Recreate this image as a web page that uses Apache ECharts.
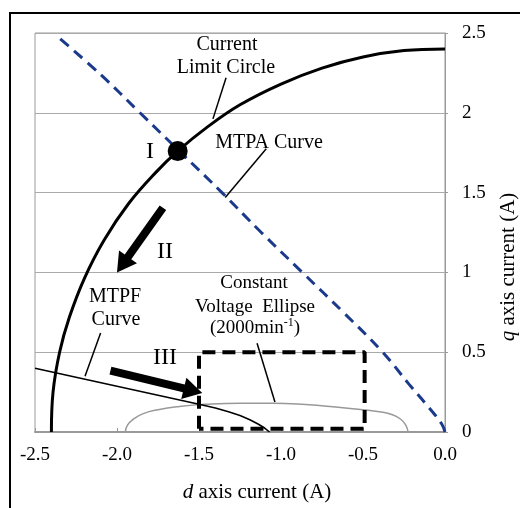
<!DOCTYPE html>
<html>
<head>
<meta charset="utf-8">
<script src="https://cdn.jsdelivr.net/npm/echarts@6/dist/echarts.min.js"></script>
<style>
html, body { margin: 0; padding: 0; background: #fff; }
#chart { width: 520px; height: 508px; }
</style>
</head>
<body>
<div id="chart"></div>
<script>
// tick labels
const xTickLabels = ['-2.5', '-2.0', '-1.5', '-1.0', '-0.5', '0.0'];
const yTickLabels = ['0', '0.5', '1', '1.5', '2', '2.5'];

// current limit circle (d, q)
const circleD = [-2.40, -2.39, -2.35, -2.29, -2.20, -2.08, -1.93, -1.76, -1.63, -1.45, -1.25, -1.00, -0.75, -0.50, -0.25, 0.00];
const circleQ = [0.00, 0.25, 0.50, 0.72, 0.96, 1.20, 1.43, 1.63, 1.76, 1.91, 2.05, 2.18, 2.28, 2.35, 2.39, 2.40];

// MTPA curve
const mtpaD = [0.00, -0.02, -0.10, -0.22, -0.38, -0.62, -0.87, -1.12, -1.36, -1.62, -1.86, -2.10, -2.36];
const mtpaQ = [0.00, 0.05, 0.155, 0.30, 0.50, 0.75, 1.00, 1.25, 1.50, 1.76, 2.00, 2.24, 2.475];

// MTPF curve
const mtpfD = [-2.50, -1.50, -1.40, -1.32, -1.25, -1.19, -1.14, -1.10, -1.07];
const mtpfQ = [0.40, 0.174, 0.150, 0.127, 0.103, 0.077, 0.050, 0.025, 0.00];

// constant voltage ellipse (2000 min-1), upper half
const ellipseD = [-1.95, -1.935, -1.90, -1.84, -1.75, -1.62, -1.45, -1.25, -1.05, -0.85, -0.65, -0.50, -0.40, -0.32, -0.27, -0.24, -0.225];
const ellipseQ = [0.00, 0.045, 0.08, 0.115, 0.14, 0.16, 0.174, 0.18, 0.18, 0.172, 0.155, 0.14, 0.127, 0.108, 0.08, 0.045, 0.00];

// field weakening region box
const boxD = [-1.50, -1.50, -0.49, -0.49, -1.50];
const boxQ = [0.02, 0.50, 0.50, 0.02, 0.02];

// operating point I
const pointD = [-1.63];
const pointQ = [1.76];

// arrows II and III: start -> tip
const arrowD1 = [-1.72, -2.04];
const arrowQ1 = [1.405, 0.385];
const arrowD2 = [-2.00, -1.48];
const arrowQ2 = [1.00, 0.245];

// leader lines of the labels
const leaderD1 = [-1.335, -1.09, -2.10, -1.146];
const leaderQ1 = [2.22, 1.775, 0.62, 0.556];
const leaderD2 = [-1.415, -1.34, -2.195, -1.037];
const leaderQ2 = [1.962, 1.469, 0.35, 0.188];

const serif = '"Liberation Serif", "Times New Roman", serif';
const zip = (a, b) => a.map((v, i) => [v, b[i]]);

function renderArrow(params, api) {
  const p1 = api.coord([api.value(0), api.value(1)]);
  const p2 = api.coord([api.value(2), api.value(3)]);
  const dx = p2[0] - p1[0], dy = p2[1] - p1[1];
  const len = Math.sqrt(dx * dx + dy * dy);
  const ux = dx / len, uy = dy / len, nx = -uy, ny = ux;
  const hw = 4, HW = 11, HL = 19;
  const bx = p2[0] - ux * HL, by = p2[1] - uy * HL;
  return {
    type: 'polygon',
    shape: { points: [
      [p1[0] + nx * hw, p1[1] + ny * hw],
      [bx + nx * hw, by + ny * hw],
      [bx + nx * HW, by + ny * HW],
      p2,
      [bx - nx * HW, by - ny * HW],
      [bx - nx * hw, by - ny * hw],
      [p1[0] - nx * hw, p1[1] - ny * hw]
    ] },
    style: { fill: '#000' }
  };
}

function renderLeader(params, api) {
  const p1 = api.coord([api.value(0), api.value(1)]);
  const p2 = api.coord([api.value(2), api.value(3)]);
  return {
    type: 'line',
    shape: { x1: p1[0], y1: p1[1], x2: p2[0], y2: p2[1] },
    style: { stroke: '#000', lineWidth: 1.5 }
  };
}

function txt(text, x, y, size) {
  return {
    type: 'text', x: x, y: y, z: 100,
    style: { text: text, fontFamily: serif, fontSize: size, fill: '#000', align: 'center', verticalAlign: 'middle' }
  };
}

const chart = echarts.init(document.getElementById('chart'));

chart.setOption({
  backgroundColor: '#fff',
  animation: false,
  textStyle: { fontFamily: serif },
  grid: { left: 35, right: 75, top: 33, bottom: 76, show: true, borderColor: '#999', borderWidth: 1 },
  xAxis: {
    type: 'value', min: -2.5, max: 0, interval: 0.5,
    axisLine: { lineStyle: { color: '#999', width: 2 } },
    axisTick: { show: true, inside: true, length: 4, lineStyle: { color: '#999' } },
    axisLabel: {
      color: '#000', fontSize: 19, fontFamily: serif, margin: 14,
      formatter: v => xTickLabels[Math.round((v + 2.5) / 0.5)]
    },
    splitLine: { show: false }
  },
  yAxis: {
    type: 'value', position: 'right', min: 0, max: 2.5, interval: 0.5,
    axisLine: { show: true, lineStyle: { color: '#999' } },
    axisTick: { show: true, length: 3, lineStyle: { color: '#999' } },
    axisLabel: {
      color: '#000', fontSize: 19, fontFamily: serif, margin: 17,
      formatter: v => yTickLabels[Math.round(v / 0.5)]
    },
    splitLine: { show: true, lineStyle: { color: '#aaa', width: 1 } }
  },
  series: [
    {
      name: 'Constant Voltage Ellipse', type: 'line', data: zip(ellipseD, ellipseQ),
      smooth: 0.5, showSymbol: false, lineStyle: { color: '#999', width: 1.5 }, z: 2
    },
    {
      name: 'MTPF Curve', type: 'line', data: zip(mtpfD, mtpfQ),
      smooth: false, showSymbol: false, lineStyle: { color: '#000', width: 1.6, join: 'round' }, z: 3
    },
    {
      name: 'Region', type: 'line', data: zip(boxD, boxQ),
      showSymbol: false, lineStyle: { color: '#000', width: 4, type: [13, 7] }, z: 4
    },
    {
      name: 'Current Limit Circle', type: 'line', data: zip(circleD, circleQ),
      smooth: 0.4, showSymbol: false, lineStyle: { color: '#000', width: 3 }, z: 5
    },
    {
      name: 'MTPA Curve', type: 'line', data: zip(mtpaD, mtpaQ),
      smooth: 0.4, showSymbol: false, lineStyle: { color: '#1b3a8c', width: 3, type: [11, 7] }, z: 6
    },
    {
      name: 'I', type: 'scatter', data: zip(pointD, pointQ),
      symbolSize: 20, itemStyle: { color: '#000', opacity: 1 }, z: 7
    },
    {
      name: 'arrows', type: 'custom', renderItem: renderArrow,
      data: arrowD1.map((d, i) => [d, arrowQ1[i], arrowD2[i], arrowQ2[i]]), z: 8
    },
    {
      name: 'leaders', type: 'custom', renderItem: renderLeader,
      data: leaderD1.map((d, i) => [d, leaderQ1[i], leaderD2[i], leaderQ2[i]]), z: 8
    }
  ],
  graphic: [
    { type: 'rect', shape: { x: 10, y: 13, width: 560, height: 560 }, style: { fill: 'none', stroke: '#000', lineWidth: 2 }, z: 100 },
    txt('Current', 227, 45, 20),
    txt('Limit Circle', 226, 68, 20),
    txt('I', 150, 152, 24),
    txt('MTPA Curve', 269, 143, 20),
    txt('II', 165, 252, 24),
    txt('MTPF', 115, 297, 20),
    txt('Curve', 116, 320, 20),
    txt('Constant', 254, 283, 19),
    txt('Voltage  Ellipse', 255, 307, 19),
    {
      type: 'text', x: 255, y: 328, z: 100,
      style: {
        text: '{n|(2000min}{s|-1}{n|)}', align: 'center', verticalAlign: 'middle',
        rich: {
          n: { fontFamily: serif, fontSize: 19, fill: '#000', lineHeight: 22 },
          s: { fontFamily: serif, fontSize: 12, fill: '#000', verticalAlign: 'top', lineHeight: 22, padding: [0, 0, 6, 0] }
        }
      }
    },
    txt('III', 165, 358, 24),
    {
      type: 'text', x: 257, y: 492, z: 100,
      style: {
        text: '{i|d} axis current (A)', align: 'center', verticalAlign: 'middle',
        fontFamily: serif, fontSize: 21, fill: '#000',
        rich: { i: { fontFamily: serif, fontSize: 21, fontStyle: 'italic', fill: '#000' } }
      }
    },
    {
      type: 'text', x: 508, y: 267, z: 100, rotation: Math.PI / 2,
      style: {
        text: '{i|q} axis current (A)', align: 'center', verticalAlign: 'middle',
        fontFamily: serif, fontSize: 21, fill: '#000',
        rich: { i: { fontFamily: serif, fontSize: 21, fontStyle: 'italic', fill: '#000' } }
      }
    }
  ]
});
</script>
</body>
</html>
